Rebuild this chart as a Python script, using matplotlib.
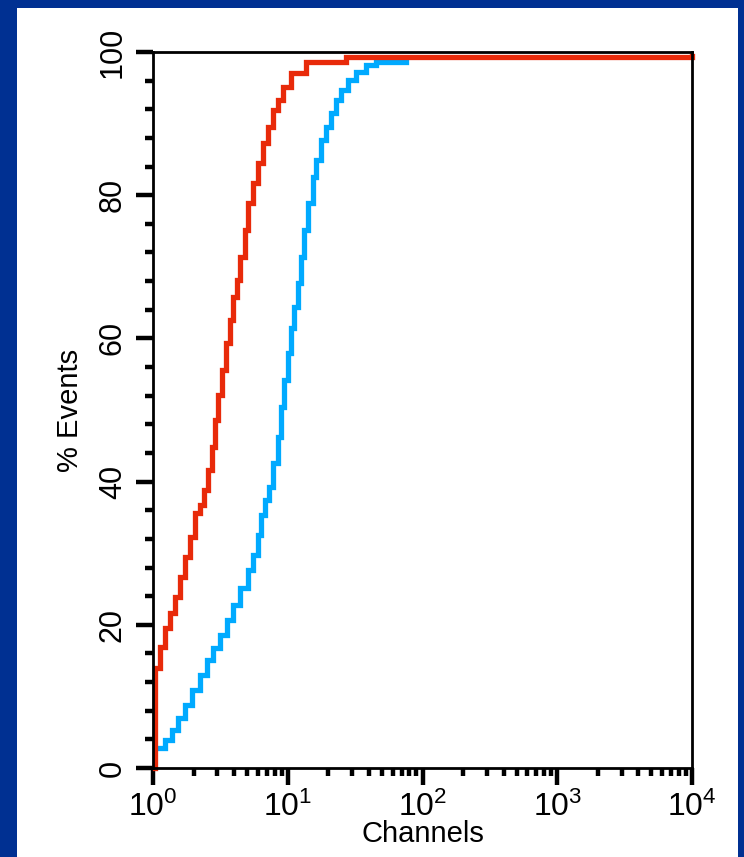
import matplotlib.pyplot as plt
from matplotlib.patches import Rectangle
from matplotlib.ticker import LogLocator, FixedLocator, NullFormatter

plt.rcParams['font.family'] = ['Liberation Sans', 'DejaVu Sans']

# cumulative % events vs channel
red_x = [1.035, 1.035, 1.128, 1.229, 1.34, 1.46, 1.59, 1.73, 1.89, 2.06, 2.24, 2.40,
         2.57, 2.76, 2.90, 3.05, 3.27, 3.51, 3.75, 3.95, 4.23, 4.46, 4.78, 5.11,
         5.48, 5.97, 6.51, 7.09, 7.73, 8.42, 9.18, 10.5, 13.6, 27.1, 10000]
red_y = [0, 14.0, 16.9, 19.6, 21.6, 23.9, 26.7, 29.5, 32.3, 35.6, 36.7, 38.8,
         41.6, 44.8, 48.6, 52.1, 55.6, 59.4, 62.6, 65.8, 68.2, 71.4, 75.1, 78.9,
         81.7, 84.5, 87.3, 89.5, 91.9, 93.3, 95.1, 97.1, 98.6, 99.3, 99.4]

blue_x = [1.13, 1.23, 1.39, 1.54, 1.73, 1.95, 2.24, 2.53, 2.80, 3.16, 3.57, 3.95,
          4.46, 5.03, 5.48, 5.97, 6.29, 6.73, 7.21, 7.73, 8.42, 8.87, 9.34, 10.0,
          10.5, 11.1, 11.9, 12.5, 13.2, 14.1, 15.4, 16.2, 17.6, 19.2, 20.9, 22.8,
          24.9, 28.0, 32.2, 38.2, 45.4, 76]
blue_y = [2.8, 3.9, 5.3, 7.0, 8.8, 10.9, 13.0, 15.1, 16.8, 18.6, 20.7, 22.8,
          25.1, 27.7, 29.7, 32.5, 35.3, 37.4, 39.2, 42.6, 46.2, 50.4, 54.2, 58.0,
          61.5, 64.4, 67.7, 71.4, 75.1, 78.9, 82.5, 84.9, 87.7, 89.5, 91.5, 93.3,
          94.7, 96.1, 97.2, 98.2, 98.6, 98.6]

y_ticks = [0, 20, 40, 60, 80, 100]

fig = plt.figure(figsize=(7.44, 8.57), dpi=100)
fig.patch.set_facecolor('#003092')
fig.patches.append(Rectangle((17 / 744, 0), (738 - 17) / 744, (857 - 8) / 857,
                             transform=fig.transFigure, facecolor='white',
                             edgecolor='none', zorder=-5))

ax = fig.add_axes([153 / 744, (857 - 768) / 857, (692 - 153) / 744, (768 - 52) / 857])
ax.set_zorder(2)
ax.set_facecolor('white')

ax.plot(blue_x, blue_y, drawstyle='steps-post', color='#00AAFF', lw=3.8,
        solid_joinstyle='miter', clip_on=False, zorder=3)
ax.plot(red_x, red_y, drawstyle='steps-post', color='#E82A0A', lw=3.8,
        solid_joinstyle='miter', clip_on=False, zorder=4)

ax.set_xscale('log')
ax.set_xlim(1, 1e4)
ax.set_ylim(0, 100)

ax.yaxis.set_major_locator(FixedLocator(y_ticks))
ax.yaxis.set_minor_locator(FixedLocator([v for v in range(0, 101, 4) if v % 20]))
ax.xaxis.set_major_locator(LogLocator(base=10, numticks=10))
ax.xaxis.set_minor_locator(LogLocator(base=10, subs=range(2, 10), numticks=20))
ax.xaxis.set_minor_formatter(NullFormatter())

for s in ax.spines.values():
    s.set_linewidth(2)
    s.set_zorder(5)

ax.tick_params(which='major', length=12, width=3.2, pad=6, color='black')
ax.tick_params(which='minor', length=6, width=3.2)
ax.tick_params(axis='x', labelsize=23, pad=5)
ax.tick_params(axis='y', labelsize=22, labelrotation=90)
for lbl in ax.get_yticklabels():
    lbl.set_va('center')

ax.set_xlabel('Channels', fontsize=21, labelpad=-2)
ax.set_ylabel('% Events', fontsize=21, labelpad=10)

fig.savefig('out.png', dpi=100, facecolor=fig.get_facecolor())
